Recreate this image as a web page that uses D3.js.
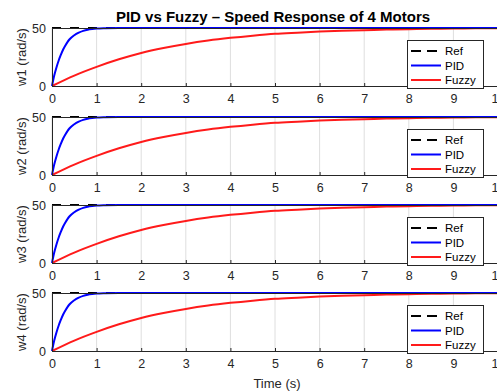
<!DOCTYPE html>
<html>
<head>
<meta charset="utf-8">
<script src="https://cdn.jsdelivr.net/npm/d3@7"></script>
<style>
  body { margin: 0; background: #fff; }
  svg { display: block; font-family: "Liberation Sans", Arial, sans-serif; }
</style>
</head>
<body>
<div id="chart"></div>
<script>
// values
const motors = ["w1", "w2", "w3", "w4"];
const pidTime = [0, 0.05, 0.1, 0.15, 0.2, 0.25, 0.3, 0.35, 0.4, 0.5, 0.6, 0.7, 0.8, 0.9, 1.0, 1.2, 1.5, 2, 3, 4, 5, 6, 7, 8, 9, 10];
const pidSpeed = [0, 9, 16, 22, 27, 31.5, 35, 38, 40.5, 43.8, 46, 47.5, 48.5, 49.1, 49.5, 49.8, 50, 50, 50, 50, 50, 50, 50, 50, 50, 50];
const fuzzyTime = [0, 0.5, 1, 1.5, 2, 2.5, 3, 3.5, 4, 4.5, 5, 5.5, 6, 6.5, 7, 7.5, 8, 8.5, 9, 9.5, 10];
const fuzzySpeed = [0, 9, 16.5, 23, 28.5, 32.8, 36.3, 39.2, 41.5, 43.4, 45, 46, 46.9, 47.6, 48.1, 48.6, 49, 49.3, 49.5, 49.7, 49.8];
const refTime = [0, 10];
const refSpeed = [50, 50];
const xTicks = [0, 1, 2, 3, 4, 5, 6, 7, 8, 9, 10];
const yTicks = [0, 50];

const config = {
  width: 497, height: 392,
  left: 52, right: 498,
  panelTop: [28, 117, 205, 293],
  panelHeight: 58
};

const svg = d3.select("#chart").append("svg")
  .attr("width", config.width)
  .attr("height", config.height);

svg.append("text")
  .attr("x", 273)
  .attr("y", 22)
  .attr("text-anchor", "middle")
  .style("font-size", "15px")
  .style("font-weight", "700")
  .attr("fill", "#000")
  .text("PID vs Fuzzy \u2013 Speed Response of 4 Motors");

const x = d3.scaleLinear().domain([0, 10]).range([config.left, config.right]);

const series = [
  { name: "Ref", t: refTime, v: refSpeed, color: "#000", dash: "9,9", width: 2 },
  { name: "PID", t: pidTime, v: pidSpeed, color: "#0000ff", dash: null, width: 2 },
  { name: "Fuzzy", t: fuzzyTime, v: fuzzySpeed, color: "#ff1a1a", dash: null, width: 2 }
];
// draw order: ref first, then fuzzy, then pid on top
const drawOrder = [series[0], series[2], series[1]];

motors.forEach((m, i) => {
  const top = config.panelTop[i];
  const bottom = top + config.panelHeight;
  const y = d3.scaleLinear().domain([0, 50]).range([bottom, top]);
  const g = svg.append("g");

  // grid
  g.selectAll(".grid")
    .data(xTicks)
    .join("line")
    .attr("x1", d => x(d)).attr("x2", d => x(d))
    .attr("y1", top).attr("y2", bottom)
    .attr("stroke", "#dedede")
    .attr("stroke-width", 1);

  const line = d3.line()
    .x(d => x(d[0]))
    .y(d => y(d[1]))
    .curve(d3.curveMonotoneX);

  drawOrder.forEach(s => {
    g.append("path")
      .datum(s.t.map((t, k) => [t, s.v[k]]))
      .attr("d", line)
      .attr("fill", "none")
      .attr("stroke", s.color)
      .attr("stroke-width", s.width)
      .attr("stroke-dasharray", s.dash);
  });

  // axes
  const xAxis = d3.axisBottom(x).tickValues(xTicks).tickSize(-3).tickPadding(8).tickFormat(d3.format("d"));
  const yAxis = d3.axisLeft(y).tickValues(yTicks).tickSize(-3).tickPadding(6);

  const ax = g.append("g").attr("transform", `translate(0,${bottom})`).call(xAxis);
  const ay = g.append("g").attr("transform", `translate(${config.left},0)`).call(yAxis);
  [ax, ay].forEach(a => {
    a.select(".domain").attr("stroke", "#262626");
    a.selectAll(".tick line").attr("stroke", "#262626");
    a.selectAll(".tick text").attr("fill", "#262626").style("font-size", "12.5px").style("font-family", "Liberation Sans, Arial, sans-serif");
  });

  // box top and right
  g.append("line").attr("x1", config.left).attr("x2", config.right)
    .attr("y1", top + 0.5).attr("y2", top + 0.5).attr("stroke", "#262626");
  g.append("line").attr("x1", config.right - 0.5).attr("x2", config.right - 0.5)
    .attr("y1", top).attr("y2", bottom).attr("stroke", "#262626");

  // y label
  g.append("text")
    .attr("transform", `translate(21,${(top + bottom) / 2}) rotate(-90)`)
    .attr("text-anchor", "middle")
    .attr("dy", "0.35em")
    .style("font-size", "13px")
    .attr("fill", "#262626")
    .text(`${m} (rad/s)`);

  // legend
  const lx = 407, lw = 76, lh = 48, ly = bottom - 46;
  const lg = g.append("g");
  lg.append("rect")
    .attr("x", lx + 0.5).attr("y", ly + 0.5).attr("width", lw).attr("height", lh)
    .attr("fill", "#fff").attr("stroke", "#262626").attr("stroke-width", 1);
  series.forEach((s, k) => {
    const yy = ly + 11 + k * 14.5;
    lg.append("line")
      .attr("x1", lx + 4).attr("x2", lx + 34)
      .attr("y1", yy).attr("y2", yy)
      .attr("stroke", s.color).attr("stroke-width", 2)
      .attr("stroke-dasharray", s.dash ? "10,6" : null);
    lg.append("text")
      .attr("x", lx + 38).attr("y", yy)
      .attr("dy", "0.35em")
      .style("font-size", "11.5px")
      .attr("fill", "#000")
      .text(s.name);
  });
});

svg.append("text")
  .attr("x", 277)
  .attr("y", 388)
  .attr("text-anchor", "middle")
  .style("font-size", "13px")
  .attr("fill", "#262626")
  .text("Time (s)");
</script>
</body>
</html>
